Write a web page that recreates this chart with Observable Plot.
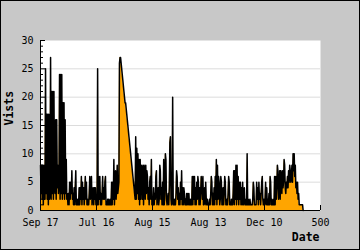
<!DOCTYPE html>
<html>
<head>
<meta charset="utf-8">
<script src="https://cdn.jsdelivr.net/npm/d3@7"></script>
<script src="https://cdn.jsdelivr.net/npm/@observablehq/plot@0.6"></script>
<style>
  html, body { margin: 0; padding: 0; background: #c8c8c8; }
</style>
</head>
<body>
<div id="chart"></div>
<script>
// Visits per point (index order)
const visits = [
  8,3,8,2,8,1,8,2,
  2,25,3,17,2,17,1,17,2,3,27,2,
  21,3,21,2,21,4,
  3,16,2,16,4,8,3,
  5,24,2,24,3,24,2,19,3,19,2,16,3,9,2,
  3,1,3,1,
  5,2,5,
  3,7,2,
  3,1,4,1,
  4,7,1,
  2,1,2,1,
  4,1,4,
  2,6,1,5,
  2,4,1,3,
  6,2,5,
  1,2,1,1,
  3,6,2,
  4,6,1,3,
  4,1,4,
  2,4,1,
  2,1,25,1,
  6,2,6,
  1,3,1,
  3,6,2,4,
  2,5,6,1,
  1,1,2,1,
  2,1,1,2,1,5,
  1,5,2,9,1,4,7,2,4,8,3,
  4,5,
  26,27,27,26,25,24,23,22,21,20,19,19,18,17,16,15,14,13,12,11,10,9,8,7,6,5,4,3,2,
  13,2,11,3,10,2,9,1,9,2,8,7,2,8,1,8,7,2,8,3,
  7,6,2,4,
  1,5,6,2,
  9,1,2,1,4,1,3,
  2,6,7,1,3,
  4,1,2,
  8,7,2,
  4,1,5,1,
  9,1,3,10,9,2,
  1,2,3,1,
  4,12,13,2,
  1,2,20,1,
  2,1,2,1,
  3,7,6,2,
  4,1,3,
  1,5,2,
  7,1,
  4,1,4,3,1,
  2,1,3,1,
  3,1,3,
  1,1,2,1,1,
  6,1,6,2,6,1,
  4,1,5,2,
  6,5,1,
  4,1,3,6,5,
  2,6,1,2,4,1,5,2,1,2,1,1,1,
  2,1,3,6,5,1,
  3,1,4,1,
  6,2,9,1,8,2,
  6,5,1,
  2,6,5,1,
  1,4,1,3,
  6,5,1,
  1,2,1,
  3,6,5,1,
  1,1,2,1,1,
  3,7,1,7,
  2,8,1,8,
  2,6,1,5,2,
  5,1,4,1,
  5,1,2,4,1,
  1,2,1,10,1,
  2,1,1,2,1,1,
  1,1,2,5,4,1,
  1,1,1,
  5,2,4,1,5,2,3,
  1,3,5,6,2,
  1,2,1,
  2,5,1,4,
  1,2,1,3,1,
  6,5,1,
  2,1,1,2,1,
  6,1,6,2,
  4,8,7,2,
  3,7,2,7,6,
  3,7,4,
  5,9,8,4,
  3,5,4,
  6,4,7,
  5,8,7,5,
  6,8,5,10,7,10,6,
  8,4,5,3,
  5,2,3,1,
  1,1,1,1,1,1,0
];

const yMajor = [0, 5, 10, 15, 20, 25, 30];
const yMinor = [1,2,3,4,6,7,8,9,11,12,13,14,16,17,18,19,21,22,23,24,26,27,28,29];
const yGrid = [5, 10, 15, 20, 25];
const xTicks = [0, 100, 200, 300, 400, 500];
const xTickLabels = ["Sep 17", "Jul 16", "Aug 15", "Aug 13", "Dec 10", "500"];
const yTitle = "Vists";
const xTitle = "Date";

const table = visits.map((v, i) => ({i, v}));

const chart = Plot.plot({
  width: 360,
  height: 250,
  marginLeft: 40,
  marginRight: 40,
  marginTop: 40,
  marginBottom: 40,
  x: {domain: [0, 500], label: null},
  y: {domain: [0, 30], label: null},
  style: {
    background: "#c8c8c8",
    fontFamily: "'DejaVu Sans Mono', monospace",
    fontSize: "10px",
    color: "black",
    overflow: "visible"
  },
  marks: [
    Plot.frame({fill: "white", stroke: "none"}),
    Plot.gridY(yGrid, {stroke: "#dcdcdc", strokeOpacity: 1}),
    Plot.areaY(table, {x: "i", y: "v", fill: "#ffa500"}),
    Plot.lineY(table, {x: "i", y: "v", stroke: "black", strokeWidth: 1.5}),
    Plot.ruleX([0], {stroke: "black"}),
    Plot.ruleY([0], {stroke: "black"}),
    Plot.axisY(yMajor, {tickSize: -5, fill: "none", label: null}),
    Plot.axisY(yMinor, {tickSize: -3, fill: "none", label: null}),
    Plot.axisY(yMajor, {tickSize: 0, tickPadding: 7, stroke: "none", label: null}),
    Plot.axisX(xTicks, {tickSize: -5, fill: "none", label: null}),
    Plot.axisX(xTicks, {tickSize: 0, tickPadding: 8, stroke: "none", label: null,
      tickFormat: d => xTickLabels[xTicks.indexOf(d)]}),
    Plot.text([xTitle], {frameAnchor: "bottom-right", lineAnchor: "bottom", dy: 30, dx: -1,
      textAnchor: "end", fontWeight: "bold", fontSize: 11.5}),
    Plot.text([yTitle], {frameAnchor: "left", rotate: -90, dx: -31.5,
      fontWeight: "bold", fontSize: 11.5})
  ]
});

d3.select(chart).append("rect")
  .attr("x", 0.5).attr("y", 0.5)
  .attr("width", 359).attr("height", 249)
  .attr("fill", "none").attr("stroke", "black");

document.getElementById("chart").appendChild(chart);
</script>
</body>
</html>
